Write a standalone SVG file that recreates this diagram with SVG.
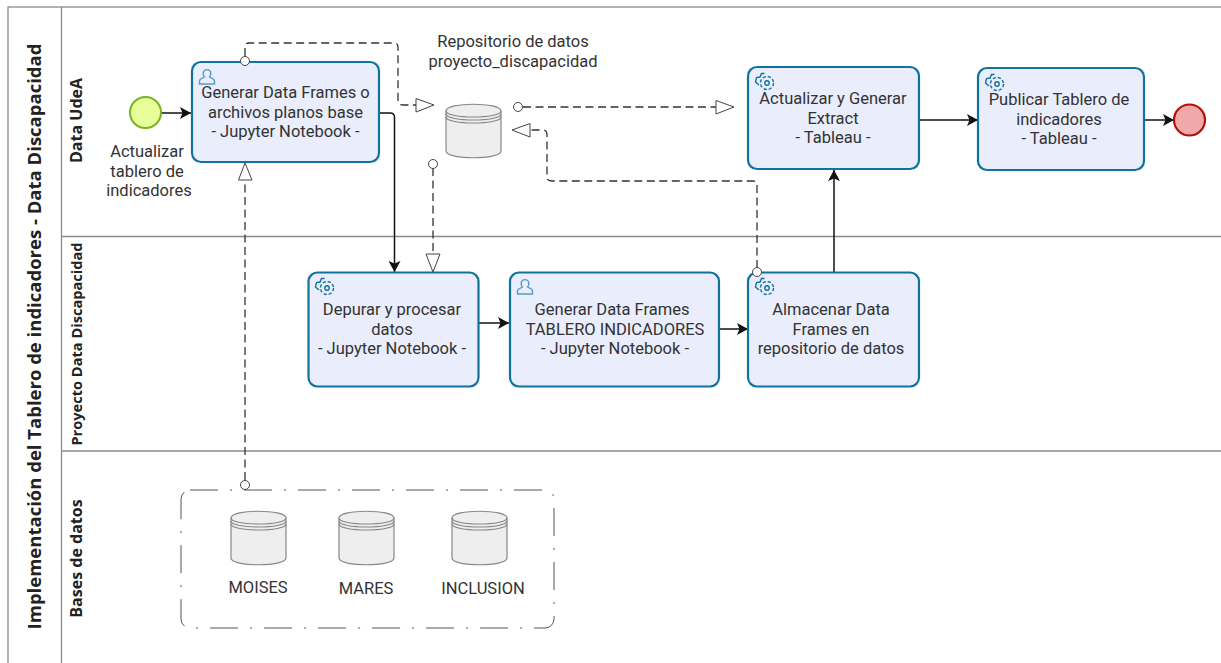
<svg xmlns="http://www.w3.org/2000/svg" width="1221" height="663" viewBox="0 0 1221 663">
<style>
text{font-family:Roboto,"Open Sans","Liberation Sans",sans-serif;fill:#333;text-anchor:middle;font-size:16.500px}
.task{fill:#e9edfc;stroke:#10739e;stroke-width:2.2}
.lane{fill:none;stroke:#8a8a8a;stroke-width:1.3}
.seq{fill:none;stroke:#111;stroke-width:1.5}
.msg{fill:none;stroke:#333;stroke-width:1.3;stroke-dasharray:8 4.500}
.ring{fill:#fff;stroke:#444;stroke-width:1}
.open{fill:#fff;stroke:#444;stroke-width:1}
.db{fill:#eee;stroke:#888;stroke-width:1.2}
.dbl{fill:none;stroke:#888;stroke-width:1.2}
.ti{font-family:"Open Sans","Noto Sans",sans-serif;font-weight:700;font-size:16px;fill:#222}
.ic{fill:none;stroke:#10739e;stroke-width:1.400}
</style>
<defs>
<marker id="arr" markerWidth="13" markerHeight="13" refX="11" refY="6" orient="auto" markerUnits="userSpaceOnUse"><path d="M0 0L11 6L0 12L2.500 6Z" fill="#111"/></marker>
<symbol id="cyl" overflow="visible"><path class="db" d="M0 7C0-2 55-2 55 7V47C55 56 0 56 0 47Z"/><path class="dbl" d="M0 7C0 15 55 15 55 7M0 10C0 18 55 18 55 10M0 13C0 21 55 21 55 13"/></symbol>
<symbol id="gear" overflow="visible"><circle class="ic" cx="13" cy="10" r="6.500" stroke-dasharray="3.200 1.900" stroke-width="3"/><circle class="ic" cx="13" cy="10" r="2.200"/><path class="ic" stroke-width="1.800" d="M5 12L1.500 9L2.500 4.500L6 4L7.500 0.500L10.500 0.500"/></symbol>
<symbol id="user" overflow="visible"><path class="ic" style="stroke:#5a9cc0" d="M0.500 15V12C0.500 9.500 3.500 9.500 5.500 8C4 6.500 4 4.500 4.500 2.500C6 0 10 0 11.500 2.500C12 4.500 12 6.500 10.500 8C12.500 9.500 15.500 9.500 15.500 12V15Z"/></symbol>
</defs>
<g id="pool">
<rect class="lane" x="8" y="7" width="1220" height="660"/>
<path class="lane" d="M61.500 7V663M61.500 236.500H1221M61.500 451H1221"/>
<text class="ti" style="font-size:18.500px" transform="translate(41 336.500) rotate(-90)">Implementación del Tablero de indicadores - Data Discapacidad</text>
<text class="ti" transform="translate(82 120.500) rotate(-90)">Data UdeA</text>
<text class="ti" transform="translate(82 344) rotate(-90)" style="font-size:14.600px">Proyecto Data Discapacidad</text>
<text class="ti" transform="translate(82 558.500) rotate(-90)">Bases de datos</text>
</g>
<g id="connectors">
<path class="seq" marker-end="url(#arr)" d="M161 113H191"/>
<path class="seq" marker-end="url(#arr)" d="M380 113H390Q394.500 113 394.500 117V272"/>
<path class="seq" marker-end="url(#arr)" d="M479 323H509"/>
<path class="seq" marker-end="url(#arr)" d="M719 329H748"/>
<path class="seq" marker-end="url(#arr)" d="M834 272V170"/>
<path class="seq" marker-end="url(#arr)" d="M919 120H978"/>
<path class="seq" marker-end="url(#arr)" d="M1144 120H1174"/>
<path class="msg" d="M245 56V47Q245 43 249 43H394Q398 43 398 47V100Q398 105 403 105H416"/>
<path class="open" d="M416 98.500L434 105L416 112Z"/>
<path class="msg" d="M523 107H716"/>
<path class="open" d="M716 100.500L734 107L716 114Z"/>
<circle class="ring" cx="518" cy="107" r="4.500"/>
<path class="msg" d="M757 268V185Q757 181 753 181H552Q547 181 547 177V135Q547 130 543 130H530"/>
<path class="open" d="M530 123.500L512 130L530 137Z"/>
<path class="msg" d="M433 168V254"/>
<path class="open" d="M426 254H440L433 272Z"/>
<circle class="ring" cx="433" cy="164" r="4.500"/>
<path class="msg" d="M245 480V182"/>
<path class="open" d="M238.500 180L245 163L252 180Z"/>
</g>
<g id="start"><circle cx="145.500" cy="112.500" r="15.500" fill="#e6ff99" stroke="#7ab31f" stroke-width="2"/><text x="147" y="157">Actualizar</text><text x="147" y="176.500">tablero de</text><text x="149" y="196">indicadores</text></g>
<g id="t1"><rect class="task" x="192" y="62" width="187" height="100" rx="9"/><use href="#user" x="199" y="69"/><text x="285.500" y="98">Generar Data Frames o</text><text x="285.500" y="117.500">archivos planos base</text><text x="285.500" y="137">- Jupyter Notebook -</text></g>
<circle class="ring" cx="245" cy="61" r="4.500"/>
<g id="repo"><use href="#cyl" x="446" y="104"/><text x="513" y="47">Repositorio de datos</text><text x="513" y="66.500">proyecto_discapacidad</text></g>
<g id="t2"><rect class="task" x="748" y="67" width="171" height="102" rx="9"/><use href="#gear" x="754" y="73"/><text x="833" y="104">Actualizar y Generar</text><text x="833" y="123.500">Extract</text><text x="833" y="143">- Tableau -</text></g>
<g id="t3"><rect class="task" x="978" y="68" width="166" height="102" rx="9"/><use href="#gear" x="984" y="74"/><text x="1059" y="105">Publicar Tablero de</text><text x="1059" y="124.500">indicadores</text><text x="1059" y="144">- Tableau -</text></g>
<g id="end"><circle cx="1189.500" cy="120" r="15.500" fill="#f0a8a8" stroke="#b01010" stroke-width="2.200"/></g>
<g id="t4"><rect class="task" x="308.500" y="272.500" width="170" height="114" rx="9"/><use href="#gear" x="314" y="278"/><text x="392" y="315">Depurar y procesar</text><text x="392" y="334.500">datos</text><text x="392" y="354">- Jupyter Notebook -</text></g>
<g id="t5"><rect class="task" x="510" y="272.500" width="209" height="114" rx="9"/><use href="#user" x="517" y="279"/><text x="612" y="315">Generar Data Frames</text><text x="615" y="334.500">TABLERO INDICADORES</text><text x="615" y="354">- Jupyter Notebook -</text></g>
<g id="t6"><rect class="task" x="748" y="272.500" width="171" height="114" rx="9"/><use href="#gear" x="754" y="278"/><text x="831" y="315">Almacenar Data</text><text x="831" y="334.500">Frames en</text><text x="831" y="354">repositorio de datos</text></g>
<circle class="ring" cx="757" cy="272" r="4.500"/>
<g id="group"><rect x="181" y="490" width="373" height="138" rx="9" fill="none" stroke="#555" stroke-width="1" stroke-dasharray="28 12 2 12"/><circle class="ring" cx="245" cy="485" r="4.500"/></g>
<g id="db1"><use href="#cyl" x="231" y="511"/><text x="258" y="593">MOISES</text></g>
<g id="db2"><use href="#cyl" x="339" y="511"/><text x="366" y="594">MARES</text></g>
<g id="db3"><use href="#cyl" x="452" y="511"/><text x="483" y="594">INCLUSION</text></g>
</svg>
